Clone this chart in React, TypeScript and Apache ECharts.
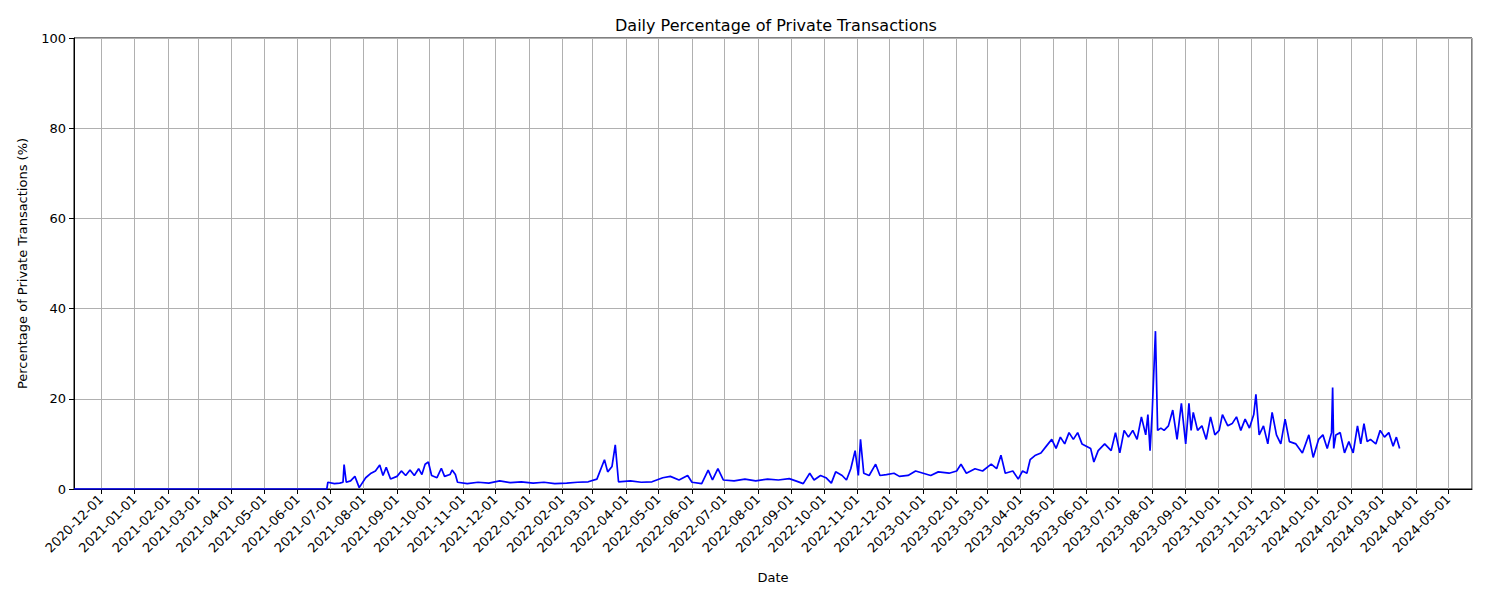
import React, { useEffect, useRef } from 'react';
import * as echarts from 'echarts';

const dates = [
  '2020-11-06', '2021-06-28', '2021-06-29', '2021-07-05', '2021-07-10', '2021-07-13', '2021-07-14', '2021-07-16',
  '2021-07-20', '2021-07-24', '2021-07-28', '2021-08-03', '2021-08-08', '2021-08-12', '2021-08-16', '2021-08-19',
  '2021-08-22', '2021-08-26', '2021-09-01', '2021-09-05', '2021-09-09', '2021-09-13', '2021-09-17', '2021-09-21',
  '2021-09-24', '2021-09-27', '2021-09-30', '2021-10-03', '2021-10-08', '2021-10-12', '2021-10-15', '2021-10-20',
  '2021-10-22', '2021-10-25', '2021-10-27', '2021-11-05', '2021-11-15', '2021-11-25', '2021-12-05', '2021-12-15',
  '2021-12-25', '2022-01-05', '2022-01-15', '2022-01-25', '2022-02-05', '2022-02-15', '2022-02-25', '2022-03-05',
  '2022-03-12', '2022-03-15', '2022-03-19', '2022-03-22', '2022-03-25', '2022-04-05', '2022-04-15', '2022-04-25',
  '2022-05-05', '2022-05-12', '2022-05-20', '2022-05-28', '2022-06-01', '2022-06-10', '2022-06-16', '2022-06-20',
  '2022-06-25', '2022-06-30', '2022-07-10', '2022-07-20', '2022-07-30', '2022-08-10', '2022-08-20', '2022-08-30',
  '2022-09-05', '2022-09-12', '2022-09-18', '2022-09-22', '2022-09-28', '2022-10-03', '2022-10-08', '2022-10-12',
  '2022-10-18', '2022-10-22', '2022-10-26', '2022-10-30', '2022-11-02', '2022-11-04', '2022-11-07', '2022-11-12',
  '2022-11-18', '2022-11-22', '2022-11-28', '2022-12-05', '2022-12-10', '2022-12-18', '2022-12-25', '2023-01-01',
  '2023-01-08', '2023-01-15', '2023-01-25', '2023-02-01', '2023-02-05', '2023-02-10', '2023-02-18', '2023-02-25',
  '2023-03-05', '2023-03-10', '2023-03-14', '2023-03-18', '2023-03-25', '2023-03-30', '2023-04-03', '2023-04-07',
  '2023-04-10', '2023-04-15', '2023-04-20', '2023-04-25', '2023-04-30', '2023-05-04', '2023-05-08', '2023-05-12',
  '2023-05-16', '2023-05-20', '2023-05-24', '2023-05-28', '2023-06-05', '2023-06-08', '2023-06-12', '2023-06-18',
  '2023-06-24', '2023-06-28', '2023-07-02', '2023-07-06', '2023-07-10', '2023-07-14', '2023-07-18', '2023-07-22',
  '2023-07-26', '2023-07-28', '2023-07-30', '2023-08-01', '2023-08-04', '2023-08-06', '2023-08-09', '2023-08-12',
  '2023-08-16', '2023-08-20', '2023-08-24', '2023-08-28', '2023-09-01', '2023-09-04', '2023-09-06', '2023-09-08',
  '2023-09-12', '2023-09-16', '2023-09-20', '2023-09-24', '2023-09-28', '2023-10-02', '2023-10-05', '2023-10-10',
  '2023-10-14', '2023-10-18', '2023-10-22', '2023-10-26', '2023-10-30', '2023-11-03', '2023-11-05', '2023-11-08',
  '2023-11-12', '2023-11-16', '2023-11-20', '2023-11-24', '2023-11-28', '2023-12-02', '2023-12-06', '2023-12-12',
  '2023-12-18', '2023-12-24', '2023-12-28', '2024-01-02', '2024-01-06', '2024-01-10', '2024-01-14', '2024-01-15',
  '2024-01-16', '2024-01-18', '2024-01-22', '2024-01-26', '2024-01-30', '2024-02-03', '2024-02-07', '2024-02-10',
  '2024-02-13', '2024-02-16', '2024-02-19', '2024-02-24', '2024-02-28', '2024-03-03', '2024-03-07', '2024-03-11',
  '2024-03-14', '2024-03-17', '2024-03-21',
];

const values = [
  0, 0, 1.5, 1.2, 1.3, 1.5, 5.4, 1.5,
  1.8, 2.8, 0.3, 2.5, 3.5, 4, 5.3, 3,
  4.8, 2.2, 2.8, 4, 3, 4.2, 3, 4.5,
  3.2, 5.5, 6, 3, 2.5, 4.6, 2.8, 3.2,
  4.2, 3.2, 1.5, 1.2, 1.5, 1.3, 1.8, 1.4,
  1.6, 1.3, 1.5, 1.2, 1.3, 1.5, 1.6, 2.2,
  6.5, 3.8, 5, 9.8, 1.6, 1.8, 1.5, 1.6,
  2.5, 2.8, 2, 3, 1.5, 1.2, 4.2, 2,
  4.5, 2, 1.8, 2.2, 1.8, 2.2, 2.0, 2.3,
  1.8, 1.2, 3.5, 2, 3, 2.5, 1.3, 3.8,
  3, 2, 4.5, 8.5, 3, 11, 3.5, 3,
  5.5, 3, 3.2, 3.5, 2.8, 3, 4, 3.5,
  3, 3.8, 3.5, 4, 5.5, 3.5, 4.5, 4,
  5.5, 4.5, 7.5, 3.5, 4, 2.2, 4, 3.5,
  6.5, 7.5, 8, 9.5, 11, 9, 11.5, 10,
  12.5, 11, 12.5, 10, 9, 6, 8.5, 10,
  8.5, 12.5, 8, 13, 11.5, 13, 11, 16,
  12, 16.5, 8.5, 17, 35, 13, 13.5, 13,
  14, 17.5, 11, 19, 10, 19, 13, 17,
  13, 14, 11, 16, 12, 13, 16.5, 14,
  14.5, 16, 13, 15.5, 13.5, 16.5, 21, 12,
  14, 10, 17, 12, 10, 15.5, 10.5, 10,
  8, 12, 7, 11, 12, 9, 12.5, 22.5,
  9, 12, 12.5, 8, 10.5, 8, 14, 10,
  14.5, 10.5, 11, 10, 13, 11.5, 12.5, 9.5,
  11.5, 9,
];

const yTicks = [0, 20, 40, 60, 80, 100];

const pad = (n: number) => (n < 10 ? '0' + n : '' + n);

const App: React.FC = () => {
  const ref = useRef<HTMLDivElement>(null);

  useEffect(() => {
    if (!ref.current) return;
    const chart = echarts.init(ref.current, undefined, { renderer: 'svg' });
    const font = 'DejaVu Sans';
    chart.setOption({
      animation: false,
      textStyle: { fontFamily: font },
      title: {
        text: 'Daily Percentage of Private Transactions',
        left: 763,
        textAlign: 'center',
        top: 4,
        textStyle: { fontSize: 16, fontWeight: 'normal', color: '#000', fontFamily: font },
      },
      grid: {
        left: 63, right: 20, top: 30, bottom: 103,
        show: true, borderColor: '#000', borderWidth: 1,
      },
      xAxis: {
        type: 'time',
        min: '2020-11-06',
        max: '2024-05-23',
        minInterval: 28 * 86400000,
        maxInterval: 31 * 86400000,
        name: 'Date',
        nameLocation: 'middle',
        nameGap: 82,
        nameTextStyle: { fontSize: 13, color: '#000' },
        axisLine: { lineStyle: { color: '#000' } },
        axisTick: { show: true, length: 5, lineStyle: { color: '#000' } },
        axisLabel: {
          rotate: 45,
          fontSize: 13,
          color: '#000',
          hideOverlap: false,
          formatter: (v: number) => {
            const d = new Date(v);
            return `${d.getFullYear()}-${pad(d.getMonth() + 1)}-${pad(d.getDate())}`;
          },
        },
        splitLine: { show: true, lineStyle: { color: '#b0b0b0', width: 1 } },
      },
      yAxis: {
        type: 'value',
        min: yTicks[0],
        max: yTicks[yTicks.length - 1],
        interval: 20,
        name: 'Percentage of Private Transactions (%)',
        nameLocation: 'middle',
        nameGap: 45,
        nameTextStyle: { fontSize: 13, color: '#000' },
        axisLine: { show: true, lineStyle: { color: '#000' } },
        axisTick: { show: true, length: 5, lineStyle: { color: '#000' } },
        axisLabel: { fontSize: 13, color: '#000' },
        splitLine: { show: true, lineStyle: { color: '#b0b0b0', width: 1 } },
      },
      series: [
        {
          type: 'line',
          data: dates.map((d, i) => [d, values[i]]),
          showSymbol: false,
          lineStyle: { color: '#0000ff', width: 1.7 },
        },
      ],
    });
    return () => chart.dispose();
  }, []);

  return <div ref={ref} style={{ width: 1484, height: 584 }} />;
};

export default App;
